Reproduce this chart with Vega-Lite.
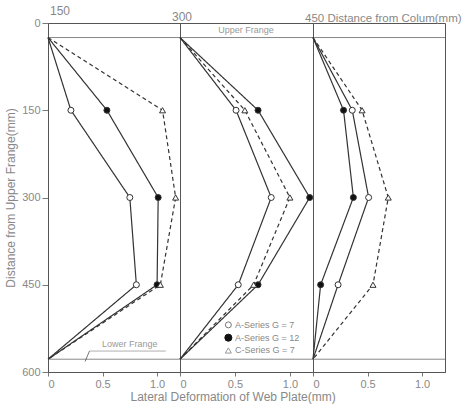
{
  "$schema": "https://vega.github.io/schema/vega-lite/v6.json",
  "background": "white",
  "padding": {"left": 4, "top": 4, "right": 0, "bottom": 4},
  "spacing": 0,
  "bounds": "flush",
  "config": {
    "font": "Liberation Sans",
    "view": {"stroke": "#555", "strokeWidth": 1},
    "axis": {"grid": false, "labelColor": "#888", "titleColor": "#888", "domainColor": "#555", "tickColor": "#777", "labelFontSize": 11, "titleFontSize": 12, "titleFontWeight": "normal", "labelFont": "Liberation Sans", "titleFont": "Liberation Sans"}
  },
  "title": {"text": "Lateral Deformation of Web Plate(mm)", "orient": "bottom", "anchor": "middle", "fontSize": 12, "fontWeight": "normal", "color": "#888", "offset": 2, "font": "Liberation Sans"},
  "data": {"values": [
    {"dist": 150, "series": "A-Series G = 7", "depth": 25, "dev": 0},
    {"dist": 150, "series": "A-Series G = 7", "depth": 150, "dev": 0.21},
    {"dist": 150, "series": "A-Series G = 7", "depth": 300, "dev": 0.75},
    {"dist": 150, "series": "A-Series G = 7", "depth": 450, "dev": 0.81},
    {"dist": 150, "series": "A-Series G = 7", "depth": 578, "dev": 0},
    {"dist": 150, "series": "A-Series G = 12", "depth": 25, "dev": 0},
    {"dist": 150, "series": "A-Series G = 12", "depth": 150, "dev": 0.54},
    {"dist": 150, "series": "A-Series G = 12", "depth": 300, "dev": 1.01},
    {"dist": 150, "series": "A-Series G = 12", "depth": 450, "dev": 1.0},
    {"dist": 150, "series": "A-Series G = 12", "depth": 578, "dev": 0},
    {"dist": 150, "series": "C-Series G = 7", "depth": 25, "dev": 0},
    {"dist": 150, "series": "C-Series G = 7", "depth": 150, "dev": 1.05},
    {"dist": 150, "series": "C-Series G = 7", "depth": 300, "dev": 1.17},
    {"dist": 150, "series": "C-Series G = 7", "depth": 450, "dev": 1.03},
    {"dist": 150, "series": "C-Series G = 7", "depth": 578, "dev": 0},
    {"dist": 300, "series": "A-Series G = 7", "depth": 25, "dev": 0},
    {"dist": 300, "series": "A-Series G = 7", "depth": 150, "dev": 0.51},
    {"dist": 300, "series": "A-Series G = 7", "depth": 300, "dev": 0.83},
    {"dist": 300, "series": "A-Series G = 7", "depth": 450, "dev": 0.53},
    {"dist": 300, "series": "A-Series G = 7", "depth": 578, "dev": 0},
    {"dist": 300, "series": "A-Series G = 12", "depth": 25, "dev": 0},
    {"dist": 300, "series": "A-Series G = 12", "depth": 150, "dev": 0.71},
    {"dist": 300, "series": "A-Series G = 12", "depth": 300, "dev": 1.18},
    {"dist": 300, "series": "A-Series G = 12", "depth": 450, "dev": 0.71},
    {"dist": 300, "series": "A-Series G = 12", "depth": 578, "dev": 0},
    {"dist": 300, "series": "C-Series G = 7", "depth": 25, "dev": 0},
    {"dist": 300, "series": "C-Series G = 7", "depth": 150, "dev": 0.59},
    {"dist": 300, "series": "C-Series G = 7", "depth": 300, "dev": 1.0},
    {"dist": 300, "series": "C-Series G = 7", "depth": 450, "dev": 0.67},
    {"dist": 300, "series": "C-Series G = 7", "depth": 578, "dev": 0},
    {"dist": 450, "series": "A-Series G = 7", "depth": 25, "dev": 0},
    {"dist": 450, "series": "A-Series G = 7", "depth": 150, "dev": 0.36},
    {"dist": 450, "series": "A-Series G = 7", "depth": 300, "dev": 0.51},
    {"dist": 450, "series": "A-Series G = 7", "depth": 450, "dev": 0.23},
    {"dist": 450, "series": "A-Series G = 7", "depth": 578, "dev": 0},
    {"dist": 450, "series": "A-Series G = 12", "depth": 25, "dev": 0},
    {"dist": 450, "series": "A-Series G = 12", "depth": 150, "dev": 0.28},
    {"dist": 450, "series": "A-Series G = 12", "depth": 300, "dev": 0.37},
    {"dist": 450, "series": "A-Series G = 12", "depth": 450, "dev": 0.07},
    {"dist": 450, "series": "A-Series G = 12", "depth": 578, "dev": 0},
    {"dist": 450, "series": "C-Series G = 7", "depth": 25, "dev": 0},
    {"dist": 450, "series": "C-Series G = 7", "depth": 150, "dev": 0.45},
    {"dist": 450, "series": "C-Series G = 7", "depth": 300, "dev": 0.69},
    {"dist": 450, "series": "C-Series G = 7", "depth": 450, "dev": 0.55},
    {"dist": 450, "series": "C-Series G = 7", "depth": 578, "dev": 0}
  ]},
  "hconcat": [
    {
      "width": 132, "height": 349,
      "title": {"text": "150", "anchor": "start", "frame": "group", "orient": "top", "fontSize": 12, "fontWeight": "normal", "color": "#888", "offset": -1, "dx": 2, "font": "Liberation Sans"},
      "transform": [{"filter": "datum.dist == 150"}],
      "encoding": {
        "x": {"field": "dev", "type": "quantitative", "scale": {"domain": [0, 1.21], "nice": false}, "axis": {"values": [0, 0.5, 1], "title": null, "labelExpr": "datum.value == 0 ? '0' : format(datum.value, '.1f')", "tickSize": 4}},
        "y": {"field": "depth", "type": "quantitative", "scale": {"domain": [0, 600], "reverse": true, "nice": false}, "axis": {"values": [0, 150, 300, 450, 600], "title": "Distance from Upper Frange(mm)", "tickSize": 6, "titlePadding": 4}}
      },
      "layer": [
        {"transform": [{"filter": "datum.depth == 25 && datum.series == 'A-Series G = 7'"}], "mark": {"type": "rule", "color": "#888", "strokeWidth": 1}, "encoding": {"y": {"datum": 25}, "x": null}},
        {"transform": [{"filter": "datum.depth == 25 && datum.series == 'A-Series G = 7'"}], "mark": {"type": "rule", "color": "#888", "strokeWidth": 1}, "encoding": {"y": {"datum": 578}, "x": null}},
        {"transform": [{"filter": "datum.depth == 25 && datum.series == 'A-Series G = 7'"}], "mark": {"type": "text", "text": "Lower Frange", "fontSize": 9, "fontWeight": "normal", "color": "#999", "align": "center"}, "encoding": {"x": {"datum": 0.75}, "y": {"datum": 552}}},
        {"transform": [{"filter": "datum.depth == 25 && datum.series == 'A-Series G = 7'"}], "mark": {"type": "rule", "color": "#999", "strokeWidth": 0.8}, "encoding": {"x": {"datum": 0.38}, "x2": {"datum": 1.08}, "y": {"datum": 564}}},
        {"transform": [{"filter": "datum.depth == 25 && datum.series == 'A-Series G = 7'"}], "mark": {"type": "rule", "color": "#555", "strokeWidth": 0.8}, "encoding": {"x": {"datum": 0.38}, "x2": {"datum": 0.34}, "y": {"datum": 564}, "y2": {"datum": 582}}},
        {"mark": {"type": "line", "color": "#333", "strokeWidth": 1.2}, "encoding": {"detail": {"field": "series"}, "order": {"field": "depth"}, "strokeDash": {"field": "series", "scale": {"domain": ["A-Series G = 7", "A-Series G = 12", "C-Series G = 7"], "range": [[1, 0], [1, 0], [4, 3]]}, "legend": null}}},
        {"transform": [{"filter": "datum.depth > 100 && datum.depth < 500"}], "mark": {"type": "point", "filled": true, "size": 36, "stroke": "#333", "strokeWidth": 1, "opacity": 1}, "encoding": {"shape": {"field": "series", "legend": null, "scale": {"domain": ["A-Series G = 7", "A-Series G = 12", "C-Series G = 7"], "range": ["circle", "circle", "triangle-up"]}}, "fill": {"field": "series", "legend": null, "scale": {"domain": ["A-Series G = 7", "A-Series G = 12", "C-Series G = 7"], "range": ["white", "#111", "white"]}}}}
      ]
    },
    {
      "width": 133, "height": 349,
      "title": {"text": "300", "anchor": "start", "frame": "group", "orient": "top", "fontSize": 12, "fontWeight": "normal", "color": "#888", "offset": -1, "dx": -8, "font": "Liberation Sans"},
      "transform": [{"filter": "datum.dist == 300"}],
      "encoding": {
        "x": {"field": "dev", "type": "quantitative", "scale": {"domain": [0, 1.21], "nice": false}, "axis": {"values": [0, 0.5, 1], "title": null, "labelExpr": "datum.value == 0 ? '0' : format(datum.value, '.1f')", "tickSize": 4}},
        "y": {"field": "depth", "type": "quantitative", "scale": {"domain": [0, 600], "reverse": true, "nice": false}, "axis": null}
      },
      "layer": [
        {"transform": [{"filter": "datum.depth == 25 && datum.series == 'A-Series G = 7'"}], "mark": {"type": "rule", "color": "#888", "strokeWidth": 1}, "encoding": {"y": {"datum": 25}, "x": null}},
        {"transform": [{"filter": "datum.depth == 25 && datum.series == 'A-Series G = 7'"}], "mark": {"type": "rule", "color": "#888", "strokeWidth": 1}, "encoding": {"y": {"datum": 578}, "x": null}},
        {"transform": [{"filter": "datum.depth == 25 && datum.series == 'A-Series G = 7'"}], "mark": {"type": "text", "text": "Upper Frange", "fontSize": 9, "fontWeight": "normal", "color": "#999", "align": "center"}, "encoding": {"x": {"datum": 0.6}, "y": {"datum": 12}}},
        {"mark": {"type": "line", "color": "#333", "strokeWidth": 1.2}, "encoding": {"detail": {"field": "series"}, "order": {"field": "depth"}, "strokeDash": {"field": "series", "scale": {"domain": ["A-Series G = 7", "A-Series G = 12", "C-Series G = 7"], "range": [[1, 0], [1, 0], [4, 3]]}, "legend": null}}},
        {"transform": [{"filter": "datum.depth > 100 && datum.depth < 500"}], "mark": {"type": "point", "filled": true, "size": 36, "stroke": "#333", "strokeWidth": 1, "opacity": 1}, "encoding": {"shape": {"field": "series", "legend": null, "scale": {"domain": ["A-Series G = 7", "A-Series G = 12", "C-Series G = 7"], "range": ["circle", "circle", "triangle-up"]}}, "fill": {"field": "series", "legend": null, "scale": {"domain": ["A-Series G = 7", "A-Series G = 12", "C-Series G = 7"], "range": ["white", "#111", "white"]}}}},
        {"transform": [{"filter": "datum.depth == 25 && datum.series == 'A-Series G = 7'"}], "mark": {"type": "point", "shape": "circle", "filled": true, "fill": "white", "stroke": "#777", "strokeWidth": 1, "size": 36, "opacity": 1}, "encoding": {"x": {"datum": 0.44}, "y": {"datum": 519}}},
        {"transform": [{"filter": "datum.depth == 25 && datum.series == 'A-Series G = 7'"}], "mark": {"type": "point", "shape": "circle", "filled": true, "fill": "#111", "stroke": "#111", "strokeWidth": 1, "size": 50, "opacity": 1}, "encoding": {"x": {"datum": 0.44}, "y": {"datum": 541}}},
        {"transform": [{"filter": "datum.depth == 25 && datum.series == 'A-Series G = 7'"}], "mark": {"type": "point", "shape": "triangle-up", "filled": true, "fill": "white", "stroke": "#999", "strokeWidth": 1, "size": 36, "opacity": 1}, "encoding": {"x": {"datum": 0.44}, "y": {"datum": 563}}},
        {"transform": [{"filter": "datum.depth == 25 && datum.series == 'A-Series G = 7'"}], "mark": {"type": "text", "text": "A-Series  G = 7", "fontSize": 9, "color": "#888", "align": "left", "baseline": "middle"}, "encoding": {"x": {"datum": 0.5}, "y": {"datum": 519}}},
        {"transform": [{"filter": "datum.depth == 25 && datum.series == 'A-Series G = 7'"}], "mark": {"type": "text", "text": "A-Series  G = 12", "fontSize": 9, "color": "#888", "align": "left", "baseline": "middle"}, "encoding": {"x": {"datum": 0.5}, "y": {"datum": 541}}},
        {"transform": [{"filter": "datum.depth == 25 && datum.series == 'A-Series G = 7'"}], "mark": {"type": "text", "text": "C-Series  G = 7", "fontSize": 9, "color": "#888", "align": "left", "baseline": "middle"}, "encoding": {"x": {"datum": 0.5}, "y": {"datum": 563}}}
      ]
    },
    {
      "width": 132, "height": 349,
      "title": {"text": "450 Distance from Colum(mm)", "anchor": "start", "frame": "group", "orient": "top", "fontSize": 11.5, "fontWeight": "normal", "color": "#888", "offset": -1, "dx": -8, "limit": 0, "font": "Liberation Sans"},
      "transform": [{"filter": "datum.dist == 450"}],
      "encoding": {
        "x": {"field": "dev", "type": "quantitative", "scale": {"domain": [0, 1.21], "nice": false}, "axis": {"values": [0, 0.5, 1], "title": null, "labelExpr": "datum.value == 0 ? '0' : format(datum.value, '.1f')", "tickSize": 4}},
        "y": {"field": "depth", "type": "quantitative", "scale": {"domain": [0, 600], "reverse": true, "nice": false}, "axis": null}
      },
      "layer": [
        {"transform": [{"filter": "datum.depth == 25 && datum.series == 'A-Series G = 7'"}], "mark": {"type": "rule", "color": "#888", "strokeWidth": 1}, "encoding": {"y": {"datum": 25}, "x": null}},
        {"transform": [{"filter": "datum.depth == 25 && datum.series == 'A-Series G = 7'"}], "mark": {"type": "rule", "color": "#888", "strokeWidth": 1}, "encoding": {"y": {"datum": 578}, "x": null}},
        {"mark": {"type": "line", "color": "#333", "strokeWidth": 1.2}, "encoding": {"detail": {"field": "series"}, "order": {"field": "depth"}, "strokeDash": {"field": "series", "scale": {"domain": ["A-Series G = 7", "A-Series G = 12", "C-Series G = 7"], "range": [[1, 0], [1, 0], [4, 3]]}, "legend": null}}},
        {"transform": [{"filter": "datum.depth > 100 && datum.depth < 500"}], "mark": {"type": "point", "filled": true, "size": 36, "stroke": "#333", "strokeWidth": 1, "opacity": 1}, "encoding": {"shape": {"field": "series", "legend": null, "scale": {"domain": ["A-Series G = 7", "A-Series G = 12", "C-Series G = 7"], "range": ["circle", "circle", "triangle-up"]}}, "fill": {"field": "series", "legend": null, "scale": {"domain": ["A-Series G = 7", "A-Series G = 12", "C-Series G = 7"], "range": ["white", "#111", "white"]}}}}
      ]
    }
  ]
}
